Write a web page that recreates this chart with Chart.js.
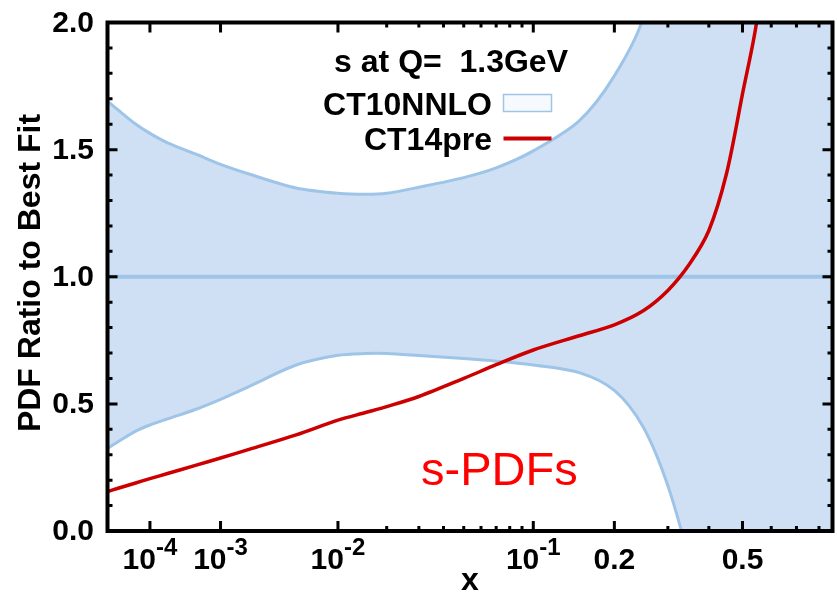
<!DOCTYPE html>
<html>
<head>
<meta charset="utf-8">
<title>s-PDFs</title>
<script src="https://cdn.jsdelivr.net/npm/chart.js@4.4.1/dist/chart.umd.min.js"></script>
<style>
  body { margin: 0; background: #fff; }
  #wrap { width: 837px; height: 594px; }
</style>
</head>
<body>
<div id="wrap"><canvas id="pdfChart" width="837" height="594"></canvas></div>
<script>
// Data kurva: nilai x dan rasio PDF terhadap best fit
const xValues   = [1e-5, 2e-5, 5e-5, 1e-4, 2e-4, 5e-4, 1e-3, 2e-3, 5e-3, 0.01, 0.015, 0.02, 0.03, 0.05, 0.07, 0.1, 0.15, 0.2, 0.25, 0.3, 0.35, 0.4, 0.45, 0.5, 0.55, 0.6, 0.7, 0.865];
const ct10Upper = [1.691, 1.656, 1.603, 1.564, 1.527, 1.483, 1.442, 1.403, 1.349, 1.328, 1.324, 1.328, 1.352, 1.390, 1.428, 1.495, 1.613, 1.790, 2.022, 2.6, 3.2, 3.9, 4.7, 5.5, 6.4, 7.5, 10, 15];
const ct10Lower = [0.325, 0.351, 0.391, 0.417, 0.441, 0.478, 0.518, 0.570, 0.653, 0.691, 0.698, 0.698, 0.690, 0.678, 0.668, 0.653, 0.623, 0.553, 0.409, 0.178, -0.12, -0.45, -0.8, -1.2, -1.6, -2.0, -3.0, -4.5];
const ct14pre   = [0.155, 0.168, 0.188, 0.206, 0.226, 0.258, 0.287, 0.322, 0.378, 0.436, 0.466, 0.489, 0.529, 0.600, 0.654, 0.712, 0.768, 0.811, 0.866, 0.946, 1.050, 1.182, 1.404, 1.719, 2.022, 2.6, 3.8, 6];
const centralX  = [1e-5, 0.865];
const centralY  = [1, 1];

// Tick sumbu
const xMajorTicks = [1e-4, 1e-3, 1e-2, 0.1, 0.2, 0.5];
const xTickLabels = [['10', '-4'], ['10', '-3'], ['10', '-2'], ['10', '-1'], ['0.2', ''], ['0.5', '']];
const xMinorTicks = [0.02, 0.03, 0.04, 0.05, 0.06, 0.07, 0.08, 0.09, 0.3, 0.4, 0.6, 0.7, 0.8];
const yMajorTicks = [0, 0.5, 1, 1.5, 2];
const yTickLabels = ['0.0', '0.5', '1.0', '1.5', '2.0'];
const yMinorTicks = [0.1, 0.2, 0.3, 0.4, 0.6, 0.7, 0.8, 0.9, 1.1, 1.2, 1.3, 1.4, 1.6, 1.7, 1.8, 1.9];

const X_MIN = 1e-5, X_MAX = 0.865, POW = 0.221;

const FONT = "'Liberation Sans', Arial, sans-serif";
const BAND_LINE = 'rgb(158,196,232)';
const BAND_FILL = 'rgb(207,224,244)';
const RED = 'rgb(204,0,0)';

// Skala x berpangkat (x^POW), seperti plot CTEQ
class PowerScale extends Chart.Scale {
  determineDataLimits() {
    this.min = this.options.min;
    this.max = this.options.max;
  }
  buildTicks() {
    return xMajorTicks.map(v => ({ value: v }));
  }
  getLabelForValue(v) {
    return String(v);
  }
  configure() {
    super.configure();
    this._start = Math.pow(this.min, POW);
    this._range = Math.pow(this.max, POW) - this._start;
  }
  getPixelForValue(v) {
    if (v === null || v === undefined || isNaN(v)) return NaN;
    return this.getPixelForDecimal((Math.pow(v, POW) - this._start) / this._range);
  }
  getValueForPixel(px) {
    return Math.pow(this._start + this.getDecimalForPixel(px) * this._range, 1 / POW);
  }
}
PowerScale.id = 'power';
PowerScale.defaults = {};
Chart.register(PowerScale);

function toPoints(xs, ys) {
  return xs.map((x, i) => ({ x: x, y: ys[i] }));
}

// Bingkai, tick ke dalam, label dan legenda
const framePlugin = {
  id: 'frame',
  afterDraw(chart) {
    const ctx = chart.ctx;
    const a = chart.chartArea;
    const sx = chart.scales.x, sy = chart.scales.y;
    ctx.save();
    ctx.strokeStyle = '#000';
    ctx.lineWidth = 3;
    ctx.beginPath();
    function xTick(v, len) {
      const px = sx.getPixelForValue(v);
      ctx.moveTo(px, a.bottom); ctx.lineTo(px, a.bottom - len);
      ctx.moveTo(px, a.top); ctx.lineTo(px, a.top + len);
    }
    function yTick(v, len) {
      const py = sy.getPixelForValue(v);
      ctx.moveTo(a.left, py); ctx.lineTo(a.left + len, py);
      ctx.moveTo(a.right, py); ctx.lineTo(a.right - len, py);
    }
    xMajorTicks.forEach(v => xTick(v, 10));
    xMinorTicks.forEach(v => xTick(v, 5));
    yMajorTicks.forEach(v => yTick(v, 10));
    yMinorTicks.forEach(v => yTick(v, 5));
    ctx.stroke();

    ctx.lineWidth = 4;
    ctx.strokeRect(a.left, a.top, a.right - a.left, a.bottom - a.top);

    ctx.fillStyle = '#000';
    // label sumbu y
    ctx.font = 'bold 30px ' + FONT;
    ctx.textAlign = 'right';
    ctx.textBaseline = 'middle';
    yMajorTicks.forEach((v, i) => {
      ctx.fillText(yTickLabels[i], 94, sy.getPixelForValue(v) + 1);
    });

    // label sumbu x dengan pangkat
    ctx.textBaseline = 'alphabetic';
    ctx.textAlign = 'left';
    xMajorTicks.forEach((v, i) => {
      const base = xTickLabels[i][0], sup = xTickLabels[i][1];
      ctx.font = 'bold 30px ' + FONT;
      const wb = ctx.measureText(base).width;
      ctx.font = 'bold 24px ' + FONT;
      const ws = sup ? ctx.measureText(sup).width : 0;
      const left = sx.getPixelForValue(v) - (wb + ws) / 2;
      ctx.font = 'bold 30px ' + FONT;
      ctx.fillText(base, left, 569);
      if (sup) {
        ctx.font = 'bold 24px ' + FONT;
        ctx.fillText(sup, left + wb, 555);
      }
    });

    // judul sumbu
    ctx.font = 'bold 32px ' + FONT;
    ctx.textAlign = 'center';
    ctx.fillText('x', 470, 590);
    ctx.save();
    ctx.translate(40, 273);
    ctx.rotate(-Math.PI / 2);
    ctx.fillText('PDF Ratio to Best Fit', 0, 0);
    ctx.restore();

    // legenda
    ctx.textAlign = 'right';
    ctx.fillText('s at Q=  1.3GeV', 568, 72);
    ctx.fillText('CT10NNLO', 492, 115);
    ctx.fillText('CT14pre', 492, 150);
    ctx.fillStyle = '#f6f9fd';
    ctx.fillRect(503.5, 94.5, 48, 17);
    ctx.strokeStyle = BAND_LINE;
    ctx.lineWidth = 1.5;
    ctx.strokeRect(503.5, 94.5, 48, 17);
    ctx.strokeStyle = RED;
    ctx.lineWidth = 4;
    ctx.beginPath();
    ctx.moveTo(503.5, 138.5);
    ctx.lineTo(551.5, 138.5);
    ctx.stroke();

    // teks keterangan
    ctx.fillStyle = '#ff0000';
    ctx.font = '47px ' + FONT;
    ctx.textAlign = 'left';
    ctx.fillText('s-PDFs', 421, 485);
    ctx.restore();
  }
};

const ctx = document.getElementById('pdfChart').getContext('2d');
const pdfChart = new Chart(ctx, {
  type: 'line',
  data: {
    datasets: [{
      label: 'CT10NNLO lower',
      data: toPoints(xValues, ct10Lower),
      borderColor: BAND_LINE,
      borderWidth: 3,
      fill: false,
      order: 3
    }, {
      label: 'CT10NNLO',
      data: toPoints(xValues, ct10Upper),
      borderColor: BAND_LINE,
      backgroundColor: BAND_FILL,
      borderWidth: 3,
      fill: '-1',
      order: 2
    }, {
      label: 'CT10NNLO central',
      data: toPoints(centralX, centralY),
      borderColor: BAND_LINE,
      borderWidth: 4,
      fill: false,
      tension: 0,
      order: 1
    }, {
      label: 'CT14pre',
      data: toPoints(xValues, ct14pre),
      borderColor: RED,
      borderWidth: 3.5,
      fill: false,
      order: 0
    }]
  },
  options: {
    responsive: false,
    animation: false,
    layout: { padding: { left: 107.5, right: 4.5, top: 22.5, bottom: 63 } },
    elements: {
      point: { radius: 0 },
      line: { tension: 0.3 }
    },
    plugins: {
      legend: { display: false },
      tooltip: { enabled: false },
      filler: { drawTime: 'beforeDatasetsDraw' }
    },
    scales: {
      x: { type: 'power', min: X_MIN, max: X_MAX, display: false },
      y: { type: 'linear', min: 0, max: 2, display: false }
    }
  },
  plugins: [framePlugin]
});
</script>
</body>
</html>
